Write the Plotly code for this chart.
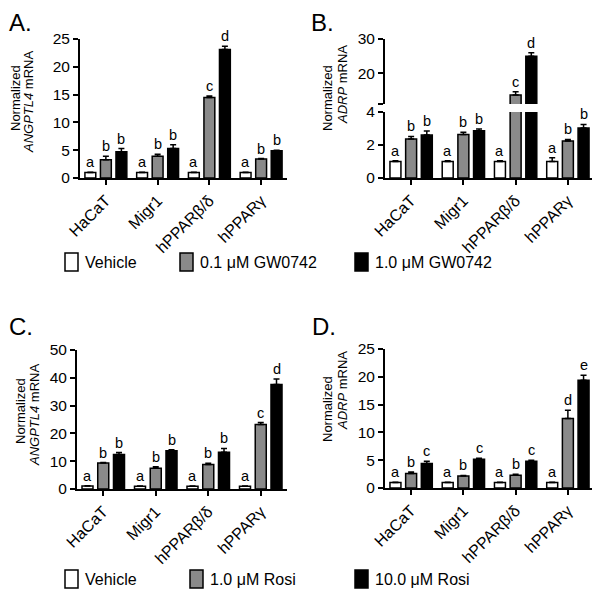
import plotly.graph_objects as go

groups = ["HaCaT", "Migr1", "hPPARβ/δ", "hPPARγ"]

# A: ANGPTL4, GW0742
a_veh = [1.0, 1.0, 1.0, 1.0]
a_low = [3.3, 3.9, 14.5, 3.4]
a_high = [4.7, 5.3, 23.1, 4.9]
a_veh_err = [0.05, 0.05, 0.05, 0.05]
a_low_err = [0.6, 0.35, 0.25, 0.1]
a_high_err = [0.6, 0.7, 0.6, 0.1]
a_letters = ["abb", "abb", "acd", "abb"]

# B: ADRP, GW0742 (broken axis)
b_veh = [1.0, 1.0, 1.0, 1.0]
b_low = [2.36, 2.63, 13.6, 2.24]
b_high = [2.6, 2.87, 24.95, 3.03]
b_veh_err = [0.05, 0.04, 0.04, 0.22]
b_low_err = [0.16, 0.14, 1.0, 0.1]
b_high_err = [0.25, 0.1, 1.0, 0.22]
b_letters = ["abb", "abb", "acd", "abb"]

# C: ANGPTL4, Rosi
c_veh = [1.1, 1.0, 1.0, 1.0]
c_low = [9.35, 7.5, 8.8, 23.2]
c_high = [12.4, 13.8, 13.2, 37.6]
c_veh_err = [0.1, 0.1, 0.1, 0.1]
c_low_err = [0.15, 0.5, 0.5, 0.7]
c_high_err = [0.7, 0.3, 1.4, 2.0]
c_letters = ["abb", "abb", "abb", "acd"]

# D: ADRP, Rosi
d_veh = [1.0, 1.0, 1.0, 1.0]
d_low = [2.6, 2.16, 2.28, 12.5]
d_high = [4.4, 5.15, 4.8, 19.4]
d_veh_err = [0.05, 0.05, 0.05, 0.05]
d_low_err = [0.3, 0.1, 0.2, 1.5]
d_high_err = [0.4, 0.2, 0.2, 0.9]
d_letters = ["abc", "abc", "abc", "ade"]

legend1 = ["Vehicle", "0.1 μM GW0742", "1.0 μM GW0742"]
legend2 = ["Vehicle", "1.0 μM Rosi", "10.0 μM Rosi"]

FONT = "Liberation Sans, Arial, sans-serif"
fills = ["white", "#8a8a8a", "black"]
# the page body has an 8px margin, so the figure is a bit smaller than the window
OFF = 8
W, H = 600 - OFF, 590 - OFF


def px_x(p):
    return (p - OFF) / W


def px_y(p):
    return 1 - (p - OFF) / H


fig = go.Figure()


def add_bars(vals, errs, xa, ya):
    for k in range(3):
        fig.add_trace(go.Bar(
            x=groups, y=vals[k], xaxis=xa, yaxis=ya,
            marker=dict(color=fills[k], line=dict(color="black", width=1.5)),
            error_y=dict(type="data", array=errs[k], arrayminus=[0] * 4,
                         symmetric=False, color="black", thickness=1.5, width=3),
            showlegend=False))


def add_letters(vals, errs, letters, xa, ya_for):
    for i in range(4):
        for k in range(3):
            v = vals[k][i]
            fig.add_annotation(
                x=i + (k - 1) * 0.3, y=v + errs[k][i],
                xref=xa, yref=ya_for(v), text=letters[i][k],
                showarrow=False, yanchor="bottom", yshift=0,
                font=dict(size=14.5, color="black", family=FONT))


add_bars([a_veh, a_low, a_high], [a_veh_err, a_low_err, a_high_err], "x", "y")
add_letters([a_veh, a_low, a_high], [a_veh_err, a_low_err, a_high_err],
            a_letters, "x", lambda v: "y")

add_bars([b_veh, b_low, b_high], [b_veh_err, b_low_err, b_high_err], "x2", "y2")
add_bars([b_veh, b_low, b_high], [b_veh_err, b_low_err, b_high_err], "x2", "y3")
add_letters([b_veh, b_low, b_high], [b_veh_err, b_low_err, b_high_err],
            b_letters, "x2", lambda v: "y3" if v > 4 else "y2")

add_bars([c_veh, c_low, c_high], [c_veh_err, c_low_err, c_high_err], "x3", "y4")
add_letters([c_veh, c_low, c_high], [c_veh_err, c_low_err, c_high_err],
            c_letters, "x3", lambda v: "y4")

add_bars([d_veh, d_low, d_high], [d_veh_err, d_low_err, d_high_err], "x4", "y5")
add_letters([d_veh, d_low, d_high], [d_veh_err, d_low_err, d_high_err],
            d_letters, "x4", lambda v: "y5")

xstyle = dict(showline=True, linecolor="black", linewidth=2, ticks="outside",
              ticklen=5, tickwidth=2, tickcolor="black", tickangle=-45,
              showgrid=False, zeroline=False, range=[-0.5, 3.5], automargin=False,
              tickfont=dict(size=16, color="black", family=FONT))
ystyle = dict(showline=True, linecolor="black", linewidth=2, ticks="outside",
              ticklen=5, tickwidth=2, tickcolor="black", showgrid=False,
              zeroline=False, automargin=False,
              tickfont=dict(size=15.5, color="black", family=FONT))

fig.update_layout(
    width=W, height=H, plot_bgcolor="white", paper_bgcolor="white",
    margin=dict(l=0, r=0, t=0, b=0), barmode="group",
    bargap=0.1, bargroupgap=0.3, font=dict(family=FONT, color="black"),
    xaxis=dict(xstyle, domain=[px_x(80), px_x(287)], anchor="y"),
    yaxis=dict(ystyle, domain=[px_y(178), px_y(39)], anchor="x",
               range=[0, 25], dtick=5),
    xaxis2=dict(xstyle, domain=[px_x(385), px_x(594)], anchor="y2"),
    yaxis2=dict(ystyle, domain=[px_y(178), px_y(112)], anchor="x2",
                range=[0, 4], tickvals=[0, 2, 4]),
    yaxis3=dict(ystyle, domain=[px_y(104), px_y(39)], anchor="x2",
                range=[11, 30], tickvals=[11, 20, 30], ticktext=["", "20", "30"]),
    xaxis3=dict(xstyle, domain=[px_x(77), px_x(287)], anchor="y4"),
    yaxis4=dict(ystyle, domain=[px_y(489), px_y(350)], anchor="x3",
                range=[0, 50], dtick=10),
    xaxis4=dict(xstyle, domain=[px_x(385), px_x(594)], anchor="y5"),
    yaxis5=dict(ystyle, domain=[px_y(488), px_y(349)], anchor="x4",
                range=[0, 25], dtick=5),
)

# panel letters
for lab, x, y in [("A.", 8, 8), ("B.", 310, 8), ("C.", 8, 312), ("D.", 311, 312)]:
    fig.add_annotation(x=px_x(x), y=px_y(y), xref="paper", yref="paper",
                       text=lab, showarrow=False, xanchor="left", yanchor="top",
                       borderpad=0,
                       font=dict(size=24, color="black", family=FONT))

# y-axis titles
titles = [
    ("Normalized", 15, 98), ("<i>ANGPTL4</i> mRNA", 29, 102),
    ("Normalized", 327, 98), ("<i>ADRP</i> mRNA", 343, 85),
    ("Normalized", 20, 411), ("<i>ANGPTL4</i> mRNA", 34, 415),
    ("Normalized", 327, 409), ("<i>ADRP</i> mRNA", 342, 391),
]
for txt, x, y in titles:
    fig.add_annotation(x=px_x(x), y=px_y(y), xref="paper", yref="paper",
                       text=txt, showarrow=False, textangle=-90,
                       xanchor="center", yanchor="middle", borderpad=0,
                       font=dict(size=13, color="black", family=FONT))

# legends
box_x = [[65, 180, 355], [65, 190, 355]]
row_y = [262, 579]
for r, labels in enumerate([legend1, legend2]):
    for k in range(3):
        x0 = box_x[r][k]
        fig.add_shape(type="rect", xref="paper", yref="paper",
                      x0=px_x(x0), x1=px_x(x0 + 13),
                      y0=px_y(row_y[r] + 9), y1=px_y(row_y[r] - 9),
                      fillcolor=fills[k], line=dict(color="black", width=1.5))
        fig.add_annotation(x=px_x(x0 + 18), y=px_y(row_y[r]), xref="paper",
                           yref="paper", text=labels[k], showarrow=False,
                           xanchor="left", yanchor="middle",
                           font=dict(size=16, color="black", family=FONT))

fig.write_html("out.html")
